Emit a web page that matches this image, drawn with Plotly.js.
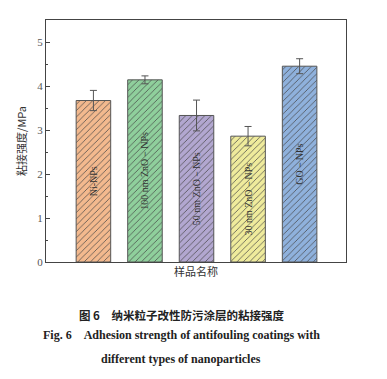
<!DOCTYPE html>
<html>
<head>
<meta charset="utf-8">
<script src="https://cdn.plot.ly/plotly-3.0.1.min.js"></script>
<style>html,body{margin:0;padding:0;background:#fff;}#chart{width:387px;height:379px;}</style>
</head>
<body>
<div id="chart"></div>
<script>
const categories = ["Ni-NPs", "100 nm ZnO－NPs", "50 nm ZnO－NPs", "30 nm ZnO－NPs", "GO－NPs"];
const values = [3.67, 4.14, 3.33, 2.86, 4.45];
const errors = [0.23, 0.09, 0.35, 0.22, 0.17];
const colors = ["#f3b98e", "#8fcf9c", "#b2a7d0", "#efeb9c", "#8fb1dc"];
const yTickVals = [0, 1, 2, 3, 4, 5];

const serif = "Liberation Serif, Times New Roman, serif";
const cjk = "Noto Sans CJK SC, sans-serif";

const trace = {
  type: "bar",
  x: categories.map((c, i) => i),
  y: values,
  width: 0.67,
  text: categories,
  textposition: "inside",
  insidetextanchor: "middle",
  textangle: -90,
  textfont: {family: serif, size: 10, color: "#333"},
  constraintext: "none",
  marker: {
    color: colors,
    line: {color: "#555", width: 1},
    pattern: {shape: "/", fillmode: "overlay", fgcolor: "#333333", fgopacity: 1, size: 4.5, solidity: 0.16}
  },
  error_y: {type: "data", array: errors, visible: true, color: "#555", thickness: 1, width: 3.5},
  hoverinfo: "none"
};

const layout = {
  width: 387, height: 379,
  margin: {l: 46, r: 41, t: 20, b: 117},
  paper_bgcolor: "#fff", plot_bgcolor: "#fff",
  showlegend: false,
  xaxis: {
    range: [-0.92, 4.9], showticklabels: false, ticks: "",
    showline: true, linecolor: "#444", linewidth: 1, mirror: true,
    showgrid: false, zeroline: false,
    title: {text: "样品名称", font: {family: cjk, size: 11, color: "#333"}, standoff: 6}
  },
  yaxis: {
    range: [0, 5.5], tickvals: yTickVals, ticks: "inside", ticklen: 4, tickcolor: "#444",
    minor: {ticks: "inside", ticklen: 2, dtick: 0.5, tickcolor: "#444"},
    showline: true, linecolor: "#444", linewidth: 1, mirror: true,
    showgrid: false, zeroline: false,
    tickfont: {family: serif, size: 11, color: "#555"},
    title: {text: "粘接强度/MPa", font: {family: cjk, size: 11, color: "#333"}, standoff: 8}
  },
  annotations: [
    {xref: "paper", yref: "paper", x: 0.45, y: 0, yshift: -53, xanchor: "center", yanchor: "middle",
     showarrow: false, text: "<b>图 6　纳米粒子改性防污涂层的粘接强度</b>", font: {family: cjk, size: 11.5, color: "#222"}},
    {xref: "paper", yref: "paper", x: 0.45, y: 0, yshift: -73, xanchor: "center", yanchor: "middle",
     showarrow: false, text: "<b>Fig. 6　Adhesion strength of antifouling coatings with</b>", font: {family: serif, size: 12, color: "#222"}},
    {xref: "paper", yref: "paper", x: 0.45, y: 0, yshift: -97, xanchor: "center", yanchor: "middle",
     showarrow: false, text: "<b>different types of nanoparticles</b>", font: {family: serif, size: 12, color: "#222"}}
  ]
};

Plotly.newPlot("chart", [trace], layout, {displayModeBar: false, staticPlot: true});
</script>
</body>
</html>
